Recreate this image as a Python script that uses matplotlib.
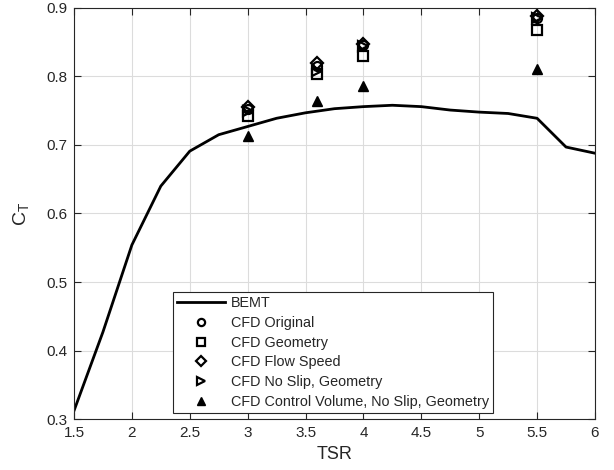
import matplotlib
matplotlib.use("Agg")
import matplotlib.pyplot as plt

plt.rcParams['font.family'] = ['Liberation Sans', 'DejaVu Sans']

bemt_tsr = [1.5, 1.75, 2.0, 2.25, 2.5, 2.75, 3.0, 3.25, 3.5, 3.75, 4.0, 4.25, 4.5, 4.75, 5.0, 5.25, 5.5, 5.75, 6.0]
bemt_ct = [0.312, 0.427, 0.554, 0.640, 0.691, 0.715, 0.727, 0.739, 0.747, 0.753, 0.756, 0.758, 0.756, 0.751, 0.748, 0.746, 0.739, 0.697, 0.688]

cfd_tsr = [3.0, 3.6, 4.0, 5.5]
cfd_original = [0.753, 0.816, 0.846, 0.886]
cfd_geometry = [0.742, 0.804, 0.830, 0.868]
cfd_flowspeed = [0.756, 0.819, 0.848, 0.888]
cfd_noslip = [0.750, 0.808, 0.845, 0.885]
cfd_cv = [0.713, 0.764, 0.786, 0.811]

xticks = [1.5, 2, 2.5, 3, 3.5, 4, 4.5, 5, 5.5, 6]
yticks = [0.3, 0.4, 0.5, 0.6, 0.7, 0.8, 0.9]

fig = plt.figure(figsize=(6.14, 4.70), dpi=100)
ax = fig.add_axes([0.1205, 0.1085, 0.8485, 0.8745])

ax.plot(bemt_tsr, bemt_ct, color='black', lw=2, label='BEMT')
mk = dict(linestyle='none', color='black', markersize=6.5, markeredgewidth=1.6, markerfacecolor='none')
ax.plot(cfd_tsr, cfd_original, marker='o', label='CFD Original', **mk)
ax.plot(cfd_tsr, cfd_geometry, marker='s', label='CFD Geometry', **mk)
ax.plot(cfd_tsr, cfd_flowspeed, marker='D', label='CFD Flow Speed', **{**mk, 'markersize': 6})
ax.plot(cfd_tsr, cfd_noslip, marker='>', label='CFD No Slip, Geometry', **mk)
ax.plot(cfd_tsr, cfd_cv, marker='^', linestyle='none', color='black', markersize=7,
        markerfacecolor='black', label='CFD Control Volume, No Slip, Geometry')

ax.set_xlim(1.5, 6)
ax.set_ylim(0.3, 0.9)
ax.set_xticks(xticks)
ax.set_xticklabels([f"{t:g}" for t in xticks])
ax.set_yticks(yticks)
ax.set_yticklabels([f"{t:g}" for t in yticks])
ax.grid(True, color='#dcdcdc', lw=0.8)
ax.set_axisbelow(True)
ax.tick_params(direction='in', top=True, right=True, labelsize=11, length=5, color='#262626', labelcolor='#262626', pad=5)
for s in ax.spines.values():
    s.set_color('#262626')
    s.set_linewidth(0.8)

ax.set_xlabel('TSR', fontsize=13, color='#262626', labelpad=4)
ax.set_ylabel('C$_\\mathregular{T}$', fontsize=14, color='#262626', labelpad=10)

leg = ax.legend(loc='lower left', bbox_to_anchor=(0.19, 0.014), fontsize=10.4, frameon=True,
                fancybox=False, edgecolor='#262626', framealpha=1, borderpad=0.3,
                labelspacing=0.4, handlelength=3.3, handletextpad=0.4, borderaxespad=0,
                markerscale=0.8)
leg.get_frame().set_linewidth(0.8)
for t in leg.get_texts():
    t.set_color('#262626')

fig.savefig('out.png', dpi=100)
